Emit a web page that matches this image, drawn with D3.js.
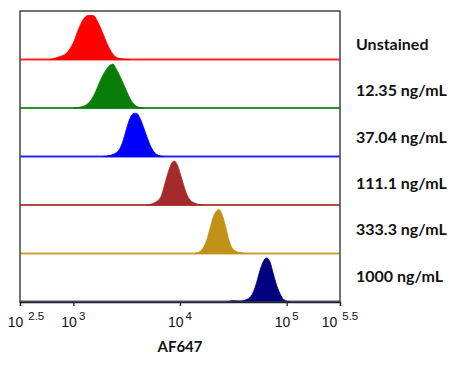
<!DOCTYPE html>
<html>
<head>
<meta charset="utf-8">
<script src="https://cdn.jsdelivr.net/npm/d3@7"></script>
<style>
  html, body { margin: 0; padding: 0; background: #fff; }
  svg { display: block; }
</style>
</head>
<body>
<svg id="chart" width="474" height="367"></svg>
<script>
// ---- Data (log10 fluorescence exponent, relative event count 0-100) ----
const sampleLabels = ["Unstained", "12.35 ng/mL", "37.04 ng/mL", "111.1 ng/mL", "333.3 ng/mL", "1000 ng/mL"];
const sampleColors = ["#ff0000", "#087d08", "#0000ff", "#a52a2a", "#c39117", "#000080"];

const unstainedExp   = [2.781, 2.853, 2.938, 3.000, 3.047, 3.093, 3.140, 3.187, 3.234, 3.281, 3.328, 3.375, 3.438, 3.531];
const unstainedCount = [0, 5, 15, 38, 68, 91, 100, 100, 83, 57, 30, 11, 2, 0];

const c12Exp   = [3.000, 3.093, 3.156, 3.203, 3.250, 3.297, 3.344, 3.369, 3.406, 3.453, 3.500, 3.547, 3.594, 3.656];
const c12Count = [0, 4, 15, 34, 61, 83, 97, 100, 87, 64, 38, 15, 4, 0];

const c37Exp   = [3.281, 3.375, 3.438, 3.469, 3.500, 3.531, 3.569, 3.594, 3.625, 3.656, 3.694, 3.734, 3.781, 3.844];
const c37Count = [0, 5, 19, 38, 64, 87, 98, 98, 87, 68, 42, 19, 5, 0];

const c111Exp   = [3.688, 3.781, 3.828, 3.859, 3.891, 3.922, 3.947, 3.975, 4.006, 4.038, 4.078, 4.141, 4.219];
const c111Count = [0, 8, 23, 49, 76, 95, 100, 91, 68, 42, 17, 4, 0];

const c333Exp   = [4.141, 4.203, 4.250, 4.281, 4.312, 4.344, 4.366, 4.397, 4.428, 4.459, 4.500, 4.562, 4.641];
const c333Count = [0, 8, 30, 57, 83, 97, 100, 87, 61, 30, 9, 2, 0];

const c1000Exp   = [4.438, 4.500, 4.562, 4.641, 4.688, 4.719, 4.750, 4.781, 4.812, 4.844, 4.875, 4.906, 4.938, 4.975, 5.031];
const c1000Count = [0, 3, 2, 8, 23, 45, 72, 92, 100, 91, 64, 38, 19, 5, 0];

const tickExponents = [2.5, 3, 4, 5, 5.5];
const tickExpLabels = ["2.5", "3", "4", "5", "5.5"];
const axisTitle = "AF647";

const seriesExp = [unstainedExp, c12Exp, c37Exp, c111Exp, c333Exp, c1000Exp];
const seriesCount = [unstainedCount, c12Count, c37Count, c111Count, c333Count, c1000Count];

// ---- Layout ----
const svg = d3.select("#chart");
const mLeft = 20, mRight = 340, mTop = 11, mBottom = 302;
const nRows = sampleLabels.length;
const rowH = (mBottom - mTop) / nRows;

const x = d3.scaleLog().domain([Math.pow(10, 2.5), Math.pow(10, 5.5)]).range([mLeft, mRight]);
const yRel = d3.scaleLinear().domain([0, 100]).range([0, 44]);

const labelFont = "Lato, 'Open Sans', 'Liberation Sans', sans-serif";

seriesExp.forEach((exps, i) => {
  const base = mTop + rowH * (i + 1);
  const pts = exps.map((e, j) => ({ v: Math.pow(10, e), c: seriesCount[i][j] }));
  const area = d3.area()
    .x(d => x(d.v))
    .y0(base)
    .y1(d => base - yRel(d.c))
    .curve(d3.curveMonotoneX);
  svg.append("path")
    .attr("d", area(pts))
    .attr("fill", sampleColors[i])
    .attr("stroke", sampleColors[i])
    .attr("stroke-width", 0.8);
  if (i < nRows - 1) {
    svg.append("line")
      .attr("x1", mLeft).attr("x2", mRight)
      .attr("y1", base).attr("y2", base)
      .attr("stroke", sampleColors[i])
      .attr("stroke-width", 2)
      .attr("opacity", 0.85);
  } else {
    svg.append("line")
      .attr("x1", mLeft).attr("x2", mRight)
      .attr("y1", base - 1).attr("y2", base - 1)
      .attr("stroke", sampleColors[i])
      .attr("stroke-width", 1.2)
      .attr("opacity", 0.7);
  }
});

// frame
svg.append("rect")
  .attr("x", mLeft).attr("y", mTop)
  .attr("width", mRight - mLeft).attr("height", mBottom - mTop)
  .attr("fill", "none")
  .attr("stroke", "#444")
  .attr("stroke-width", 1.5);

// x axis
const axis = d3.axisBottom(x)
  .tickValues(tickExponents.map(e => Math.pow(10, e)))
  .tickSize(4)
  .tickFormat("");
const gAxis = svg.append("g").attr("transform", `translate(0,${mBottom})`).call(axis);
gAxis.select(".domain").attr("stroke", "#222").attr("stroke-width", 1.3);
gAxis.selectAll(".tick line").attr("stroke", "#222").attr("stroke-width", 1.3);

tickExponents.forEach((e, i) => {
  const t = svg.append("text")
    .attr("x", x(Math.pow(10, e)) + (i === 0 ? 6 : 0))
    .attr("y", 327)
    .attr("text-anchor", "middle")
    .attr("font-family", "'Liberation Sans', Arial, sans-serif")
    .attr("fill", "#111");
  t.append("tspan").attr("font-size", 14).text("10");
  t.append("tspan")
    .attr("font-size", 11.5)
    .attr("dx", e % 1 !== 0 ? 5 : 2)
    .attr("dy", -7)
    .text(tickExpLabels[i]);
});

svg.append("text")
  .attr("x", 180).attr("y", 352)
  .attr("text-anchor", "middle")
  .attr("font-family", labelFont)
  .attr("font-weight", "bold")
  .attr("font-size", 15)
  .attr("fill", "#111")
  .text(axisTitle);

// sample labels
sampleLabels.forEach((lab, i) => {
  svg.append("text")
    .attr("x", 356)
    .attr("y", 50 + i * 46.3)
    .attr("font-family", labelFont)
    .attr("font-weight", "bold")
    .attr("font-size", 16)
    .attr("fill", "#111")
    .text(lab);
});
</script>
</body>
</html>
